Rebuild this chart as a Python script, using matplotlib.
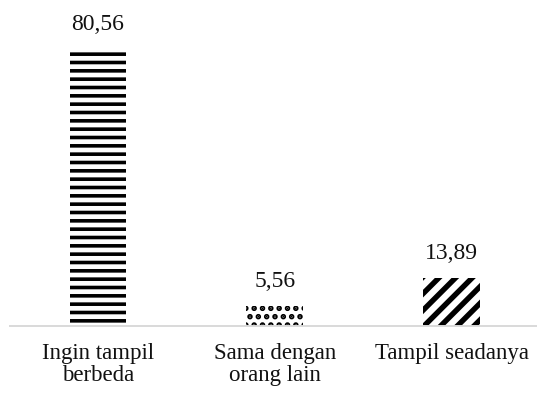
import matplotlib
matplotlib.use("Agg")
import matplotlib.pyplot as plt

categories = ["Ingin tampil\nberbeda", "Sama dengan\norang lain", "Tampil seadanya"]
values = [80.56, 5.56, 13.89]
value_labels = ["80,56", "5,56", "13,89"]
hatches = ["--", "..", "//"]
hatch_widths = [2.6, 2.7, 3.9]

plt.rcParams["font.family"] = ["Liberation Serif", "DejaVu Serif"]

fig = plt.figure(figsize=(5.37, 3.94), dpi=100)
W, H = 537, 394
base = 325.5
px_per_unit = 277 / 80.56
ymax = 90
ax = fig.add_axes([9.6 / W, (H - base) / H, 530.3 / W, ymax * px_per_unit / H])

x = list(range(len(categories)))
for i in x:
    with plt.rc_context({"hatch.linewidth": hatch_widths[i], "hatch.color": "black"}):
        ax.bar(i, values[i], width=0.32, color="white", edgecolor="black",
               linewidth=0, hatch=hatches[i])
    ax.annotate(value_labels[i], (i, values[i]), xytext=(0, 10),
                textcoords="offset points", ha="center", va="bottom",
                fontsize=17, color="#111111")

ax.set_xlim(-0.5, 2.5)
ax.set_ylim(0, ymax)
ax.set_xticks(x)
ax.set_xticklabels(categories, fontsize=16.5, color="#111111", linespacing=1.05)
ax.tick_params(axis="x", length=0, pad=12.5)
ax.set_yticks([])
for side in ["left", "right", "top"]:
    ax.spines[side].set_visible(False)
ax.spines["bottom"].set_color("#d9d9d9")
ax.spines["bottom"].set_linewidth(1.4)

fig.savefig("out.png", dpi=100)
